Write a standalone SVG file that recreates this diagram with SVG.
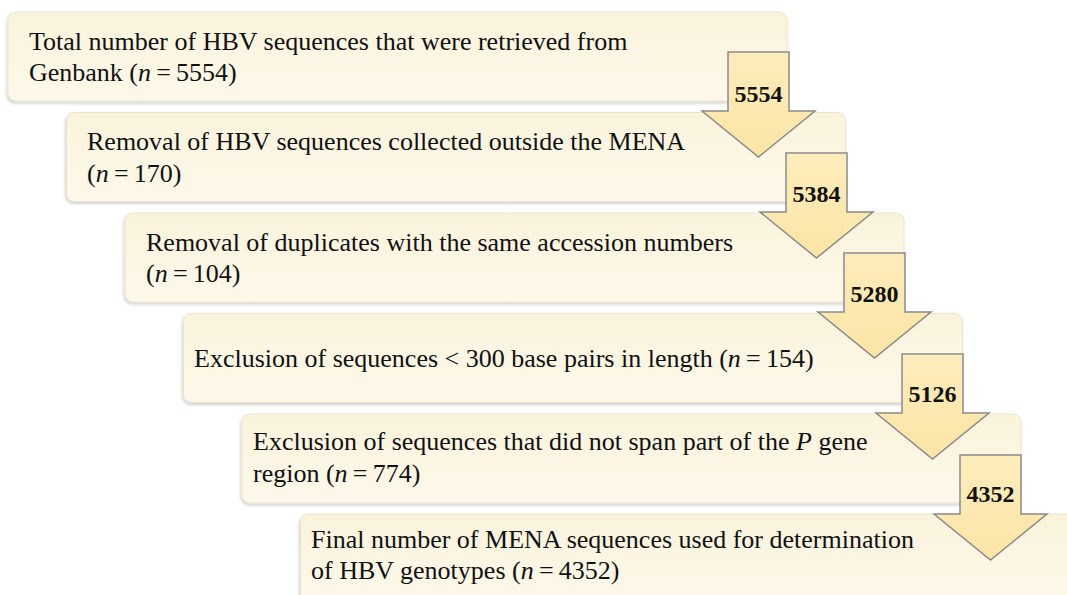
<svg xmlns="http://www.w3.org/2000/svg" width="1067" height="595" viewBox="0 0 1067 595">
<style>
.box{fill:url(#bg);stroke:#ebe4cc;stroke-width:1;filter:url(#sh)}
.t{font-family:"Liberation Serif",serif;font-size:26px;fill:#111}
.arrow{fill:url(#ag);stroke:#8a8a8a;stroke-width:1.5;stroke-linejoin:miter}
.lbl{font-family:"Liberation Serif",serif;font-size:24px;font-weight:bold;fill:#111;text-anchor:middle}
.i{font-style:italic}
</style>
<defs>
<linearGradient id="bg" x1="0" y1="0" x2="0" y2="1">
<stop offset="0" stop-color="#faf3dc"/>
<stop offset="1" stop-color="#fdf8ea"/>
</linearGradient>
<linearGradient id="ag" x1="0" y1="0" x2="0" y2="1">
<stop offset="0" stop-color="#fdecbc"/>
<stop offset="1" stop-color="#fbe5a6"/>
</linearGradient>
<filter id="sh" x="-5%" y="-10%" width="110%" height="125%">
<feDropShadow dx="-1" dy="2" stdDeviation="1.5" flood-color="#000" flood-opacity="0.18"/>
</filter>
</defs>
<g id="node1"><rect class="box" x="8" y="12" width="779" height="89" rx="8"/>
<text class="t" x="29" y="50">Total number of HBV sequences that were retrieved from</text>
<text class="t" x="29" y="81">Genbank (<tspan class="i">n</tspan>&#8201;=&#8201;5554)</text></g>
<g id="node2"><rect class="box" x="66.5" y="112.5" width="779" height="89" rx="8"/>
<text class="t" x="87" y="150">Removal of HBV sequences collected outside the MENA</text>
<text class="t" x="87" y="182">(<tspan class="i">n</tspan>&#8201;=&#8201;170)</text></g>
<g id="node3"><rect class="box" x="125" y="213" width="779" height="89" rx="8"/>
<text class="t" x="146" y="251">Removal of duplicates with the same accession numbers</text>
<text class="t" x="146" y="282">(<tspan class="i">n</tspan>&#8201;=&#8201;104)</text></g>
<g id="node4"><rect class="box" x="183.5" y="313.5" width="779" height="89" rx="8"/>
<text class="t" x="194" y="367">Exclusion of sequences &lt; 300 base pairs in length (<tspan class="i">n</tspan>&#8201;=&#8201;154)</text></g>
<g id="node5"><rect class="box" x="242" y="414" width="779" height="89" rx="8"/>
<text class="t" x="253" y="450">Exclusion of sequences that did not span part of the <tspan class="i">P</tspan> gene</text>
<text class="t" x="253" y="482">region (<tspan class="i">n</tspan>&#8201;=&#8201;774)</text></g>
<g id="node6"><rect class="box" x="300.5" y="514" width="779" height="95" rx="8"/>
<text class="t" x="311" y="548">Final number of MENA sequences used for determination</text>
<text class="t" x="311" y="579">of HBV genotypes (<tspan class="i">n</tspan>&#8201;=&#8201;4352)</text></g>
<g id="connectors">
<path class="arrow" d="M728,52 H789 V111 H815 L758.5,157 L702,111 H728 Z"/>
<text class="lbl" x="758.5" y="102">5554</text>
<path class="arrow" d="M786,153 H847 V212 H873 L816.5,258 L760,212 H786 Z"/>
<text class="lbl" x="816.5" y="202">5384</text>
<path class="arrow" d="M844,253 H905 V312 H931 L874.5,358 L818,312 H844 Z"/>
<text class="lbl" x="874.5" y="302">5280</text>
<path class="arrow" d="M902,354 H963 V413 H989 L932.5,459 L876,413 H902 Z"/>
<text class="lbl" x="932.5" y="402">5126</text>
<path class="arrow" d="M960,455 H1021 V514 H1047 L990.5,560 L934,514 H960 Z"/>
<text class="lbl" x="990.5" y="502">4352</text>
</g>
</svg>
